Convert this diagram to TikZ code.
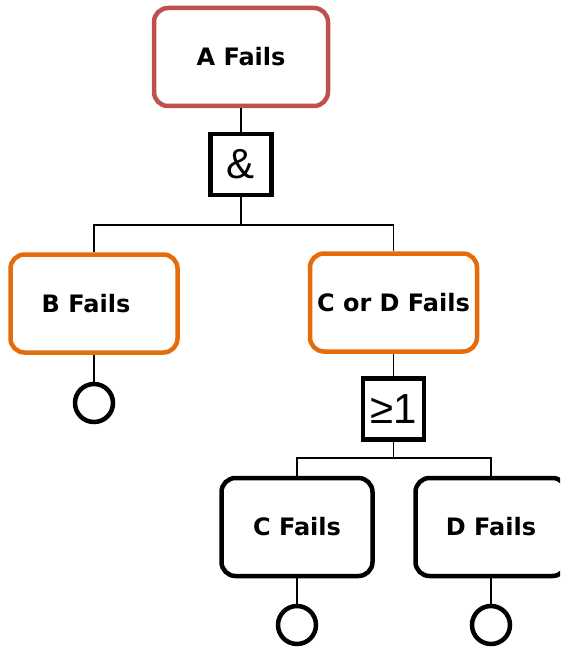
\documentclass[tikz,border=0pt]{standalone}
\usepackage{fontspec}
\setmainfont{DejaVu Sans}
\newfontfamily\gatefont{Liberation Sans}
\definecolor{topred}{HTML}{C0504D}
\definecolor{midorange}{HTML}{E46C0A}
\begin{document}
\begin{tikzpicture}[x=1pt,y=-1pt,
  event/.style={draw, line width=4.5pt, rounded corners=14pt, fill=white,
    minimum width=#1, minimum height=98pt, inner sep=0pt,
    font=\fontsize{24}{28}\selectfont\bfseries},
  event/.default=167pt,
  gatebox/.style={draw, line width=4.5pt, minimum size=61pt, inner sep=0pt,
    font=\gatefont\fontsize{42}{46}\selectfont},
  basic/.style={draw, circle, line width=4.5pt, minimum size=38pt, inner sep=0pt},
  wire/.style={line width=1.6pt}]
\useasboundingbox (0,0) rectangle (560,650);
\clip (0,0) rectangle (560,650);

% top event and its AND gate
\node[event=174pt, draw=topred] (A) at (241,57) {A Fails};
\node[gatebox] (and) at (241,164.5) {\&};

% second level
\node[event, draw=midorange] (B) at (94,303.5) {\hspace*{-16pt}B Fails};
\node[event, draw=midorange] (CD) at (393.5,302.5) {C or D Fails};
\node[gatebox] (or) at (393.5,409) {≥1};

% bottom level
\node[event=151pt] (C) at (297,527) {C Fails};
\node[event=151pt] (D) at (491,527) {D Fails};

% basic events
\node[basic] (Bb) at (94,403) {};
\node[basic] (Cb) at (297,625) {};
\node[basic] (Db) at (491,625) {};

\coordinate (j1) at (241,225);
\coordinate (j2) at (393.5,458);

% connectors
\draw[wire] (A.south) -- (and.north);
\draw[wire] (and.south) -- (j1);
\draw[wire] (B.north) |- (j1) -| (CD.north);
\draw[wire] (CD.south) -- (or.north);
\draw[wire] (or.south) -- (j2);
\draw[wire] (C.north) |- (j2) -| (D.north);
\draw[wire] (B.south) -- (Bb.north);
\draw[wire] (C.south) -- (Cb.north);
\draw[wire] (D.south) -- (Db.north);
\end{tikzpicture}
\end{document}
